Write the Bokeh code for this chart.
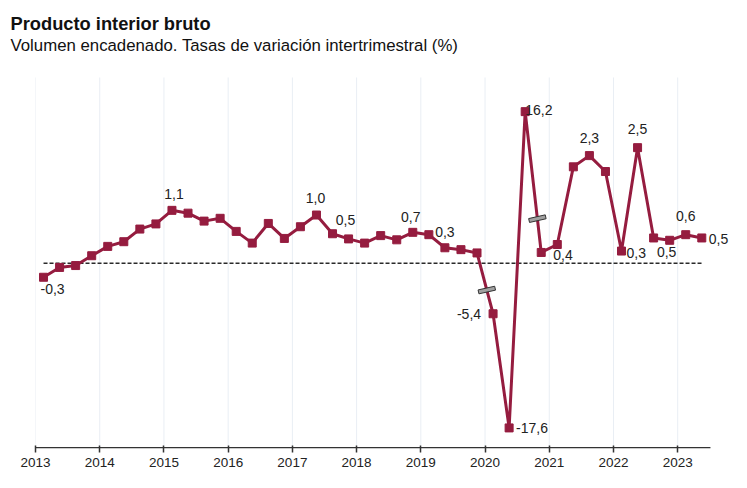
from bokeh.plotting import figure
from bokeh.models import ColumnDataSource, LabelSet, Title, FixedTicker, Range1d
from bokeh.core.properties import value
from bokeh.embed import file_html
from bokeh.resources import INLINE

# ---------------- data ----------------
years = list(range(2013, 2024))
year_labels = [str(y) for y in years]
start_year = 2013
# Quarterly GDP growth (%), 2013 T1 .. 2023 T2
values = [
    -0.30, -0.09, -0.05, 0.16,   # 2013
    0.36, 0.46, 0.73, 0.84,      # 2014
    1.13, 1.07, 0.90, 0.96,      # 2015
    0.68, 0.43, 0.85, 0.53,      # 2016
    0.78, 1.03, 0.63, 0.52,      # 2017
    0.43, 0.59, 0.50, 0.66,      # 2018
    0.61, 0.33, 0.29, 0.22,      # 2019
    -5.4, -17.6, 16.2, 0.23,     # 2020
    0.40, 2.06, 2.30, 1.96,      # 2021
    0.26, 2.47, 0.54, 0.49,      # 2022
    0.61, 0.54,                  # 2023
]
# quarters whose value is written on the chart
labelled = [0, 8, 17, 19, 23, 25, 28, 29, 30, 32, 34, 36, 37, 39, 40, 41]

# ---------------- styles / layout ----------------
RED = "#951c3f"
FONT = "Liberation Sans"
BREAK_LIMIT = 3.0      # values beyond this are drawn on a compressed scale
BREAK_FACTOR = 5.0
X_START, X_AXIS_END, X_FRAME_END = 2013, 2023.51, 2023.9
Y_LO, Y_GRID_TOP, Y_HI = -3.96, 3.97, 4.461
# label placement per labelled quarter: (align, x_offset px, y_offset px)
label_place = {
    0: ("left", -3, -12), 8: ("center", 2, 16), 17: ("center", -1, 17),
    19: ("center", -3, 19), 23: ("center", -2, 15), 25: ("center", 0, 16),
    28: ("right", -12, 0), 29: ("left", 7, 0), 30: ("left", 0, 2),
    32: ("left", -4, -10), 34: ("center", 0, 18), 36: ("left", 5, -2),
    37: ("center", 0, 19), 39: ("center", -3, -12), 40: ("center", 0, 19),
    41: ("left", 7, -1),
}
# break markers: (segment start index, fraction along segment)
break_marks = [(27, 0.61), (30, 0.76)]

# ---------------- derived ----------------
xq = [start_year + (i // 4) + ((i % 4) + 0.5) / 4 for i in range(len(values))]
disp = [v if abs(v) <= BREAK_LIMIT else v / BREAK_FACTOR for v in values]

def fmt(v):
    return f"{v:.1f}".replace(".", ",")

p = figure(width=739, height=480, output_backend="svg", toolbar_location=None,
           x_range=Range1d(X_START, X_FRAME_END), y_range=Range1d(Y_LO, Y_HI),
           y_axis_location=None, min_border_left=35, min_border_right=4,
           min_border_top=54, min_border_bottom=32)
p.outline_line_color = None
p.ygrid.visible = False
p.xgrid.visible = False

# vertical year grid lines
p.segment(x0=years, y0=[Y_LO] * len(years), x1=years, y1=[Y_GRID_TOP] * len(years),
          line_color="#e9eef4", line_width=1)

ax = p.xaxis[0]
ax.ticker = FixedTicker(ticks=years)
ax.major_label_overrides = {y: s for y, s in zip(years, year_labels)}
ax.minor_tick_line_color = None
ax.major_tick_in = 3
ax.major_tick_out = 4
ax.axis_line_color = None
ax.major_tick_line_color = "#333333"
ax.major_tick_line_width = 1.5
ax.major_label_text_font = FONT
ax.major_label_text_font_size = "13.5px"
ax.major_label_text_color = "#222222"
ax.major_label_standoff = 5
# axis base line (ends after the last quarter)
p.line([X_START, X_AXIS_END], [Y_LO + 0.016, Y_LO + 0.016], line_color="#333333", line_width=1.5)

sub = Title(text="Volumen encadenado. Tasas de variación intertrimestral (%)",
            text_font=FONT, text_font_size="16.8px", text_font_style="normal",
            text_color="#111111", align="left", offset=-25, standoff=0)
p.add_layout(sub, "above")
tit = Title(text="Producto interior bruto", text_font=FONT, text_font_size="18.3px",
            text_font_style="bold", text_color="#111111", align="left", offset=-25,
            standoff=0)
p.add_layout(tit, "above")

# zero reference line
p.line([xq[0], xq[-1]], [0, 0], line_color="#2a2a2a", line_width=1.6, line_dash="4 2")

src = ColumnDataSource(dict(x=xq, y=disp))
p.line("x", "y", source=src, line_color=RED, line_width=3)
p.scatter("x", "y", source=src, marker="square", size=8, fill_color=RED, line_color=RED)

# break markers
bx, by = [], []
for i, f in break_marks:
    bx.append(xq[i] + (xq[i + 1] - xq[i]) * f)
    by.append(disp[i] + (disp[i + 1] - disp[i]) * f)
p.rect(bx, by, width=17, height=4, width_units="screen", height_units="screen",
       angle=0.22, fill_color="#a0a0a0", line_color="#333333", line_width=1)

# value labels
for align in ("left", "center", "right"):
    idx = [i for i in labelled if label_place[i][0] == align]
    if not idx:
        continue
    lsrc = ColumnDataSource(dict(
        x=[xq[i] for i in idx], y=[disp[i] for i in idx],
        t=[fmt(values[i]) for i in idx],
        dx=[label_place[i][1] for i in idx], dy=[label_place[i][2] for i in idx]))
    p.add_layout(LabelSet(x="x", y="y", text="t", source=lsrc, x_offset="dx", y_offset="dy",
                          text_align=align, text_baseline="middle", text_font=value(FONT),
                          text_font_size="14px", text_color="#222222"))

open("out.html", "w").write(file_html(p, INLINE))
